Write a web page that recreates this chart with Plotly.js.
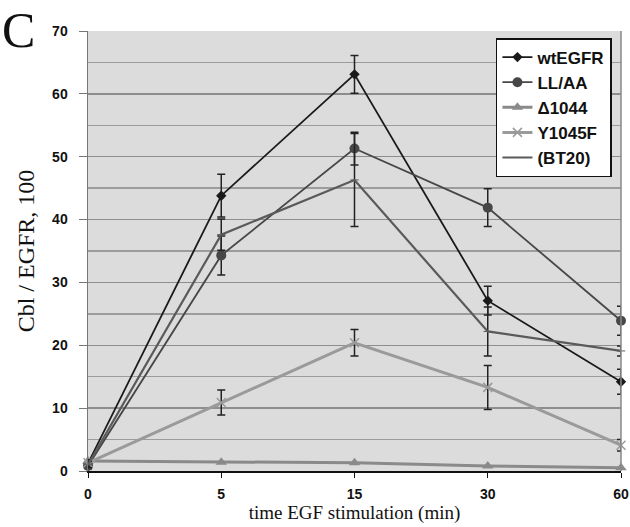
<!DOCTYPE html>
<html><head><meta charset="utf-8">
<script src="https://cdn.plot.ly/plotly-3.0.1.min.js"></script>
<style>body{margin:0;background:#fff}#c{width:630px;height:527px}</style>
</head><body><div id="c"></div>
<script>
var times = ['0','5','15','30','60'];
var wtEGFR = [1.2, 43.8, 63.1, 27.1, 14.2];
var wtEGFR_err = [0.6, 3.4, 3.0, 2.3, 2.0];
var LLAA = [0.8, 34.3, 51.3, 41.9, 23.9];
var LLAA_err = [0.5, 3.1, 2.6, 3.0, 2.3];
var d1044 = [1.6, 1.4, 1.3, 0.8, 0.5];
var d1044_err = [0, 0, 0, 0, 0];
var Y1045F = [1.3, 10.9, 20.4, 13.3, 4.1];
var Y1045F_err = [0.5, 2.0, 2.1, 3.5, 0.9];
var BT20 = [1.0, 37.6, 46.3, 22.2, 19.1];
var BT20_err = [0.5, 2.5, 7.4, 3.9, 0.8];
var names = ['wtEGFR','LL/AA','\u03941044','Y1045F','(BT20)'];

function tr(name, y, err, color, width, sym, msize, mcolor){
  return {x: times, y: y, name: name, type:'scatter', mode:'lines+markers', cliponaxis:false,
    line:{color:color, width:width},
    marker:{symbol:sym, size:msize, color:mcolor||color, line:{width: sym.indexOf('x')>=0?1.5:0, color:mcolor||color}},
    error_y:{type:'data', array:err, visible:true, color:'#222', thickness:1.5, width:4}};
}
var data = [
  tr(names[0], wtEGFR, wtEGFR_err, '#1a1a1a', 1.8, 'diamond', 8),
  tr(names[1], LLAA, LLAA_err, '#474747', 1.8, 'circle', 10),
  tr(names[2], d1044, d1044_err, '#8a8a8a', 3, 'triangle-up', 10),
  tr(names[3], Y1045F, Y1045F_err, '#9a9a9a', 3, 'x-thin-open', 9),
  tr(names[4], BT20, BT20_err, '#5a5a5a', 2.2, 'line-ew-open', 6)
];
var layout = {
  width:630, height:527, margin:{l:88, r:9, t:31, b:56},
  paper_bgcolor:'#fff', plot_bgcolor:'#dcdcdc', showlegend:true,
  xaxis:{type:'category', range:[0,4], showgrid:false, zeroline:false,
    showline:true, linecolor:'#111', linewidth:1.5, ticks:'outside', ticklen:5, tickcolor:'#111',
    ticklabelstandoff:5,
    tickfont:{family:'Liberation Sans, Arial', size:14, color:'#111', weight:'bold'},
    title:{text:'time EGF stimulation (min)', font:{family:'Liberation Serif, Times New Roman', size:19, color:'#111'}, standoff:4}},
  yaxis:{range:[0,70], dtick:10, showgrid:true, gridcolor:'#8e8e8e', gridwidth:1.5, zeroline:false,
    minor:{dtick:5, showgrid:true, gridcolor:'#9c9c9c', gridwidth:1.3},
    showline:true, linecolor:'#777', linewidth:1.5, mirror:false, ticks:'outside', ticklen:8, tickcolor:'#777',
    ticklabelstandoff:8,
    tickfont:{family:'Liberation Sans, Arial', size:14, color:'#111', weight:'bold'},
    title:{text:'Cbl / EGFR, 100', font:{family:'Liberation Serif, Times New Roman', size:24, color:'#111'}, standoff:10}},
  legend:{x:0.983, y:0.984, xanchor:'right', yanchor:'top', bgcolor:'#fff', bordercolor:'#111', borderwidth:1.5,
    font:{family:'Liberation Sans, Arial', size:17, color:'#111', weight:'bold'}, itemwidth:30},
  shapes:[{type:'line', xref:'paper', yref:'paper', x0:1, x1:1, y0:0, y1:1, line:{color:'#888', width:1.5}}],
  annotations:[{text:'C', xref:'paper', yref:'paper', x:-0.165, y:1.07, xanchor:'left', yanchor:'top', showarrow:false,
    font:{family:'Liberation Serif, Times New Roman', size:50, color:'#111'}}]
};
Plotly.newPlot('c', data, layout, {displayModeBar:false, staticPlot:true});
</script></body></html>
